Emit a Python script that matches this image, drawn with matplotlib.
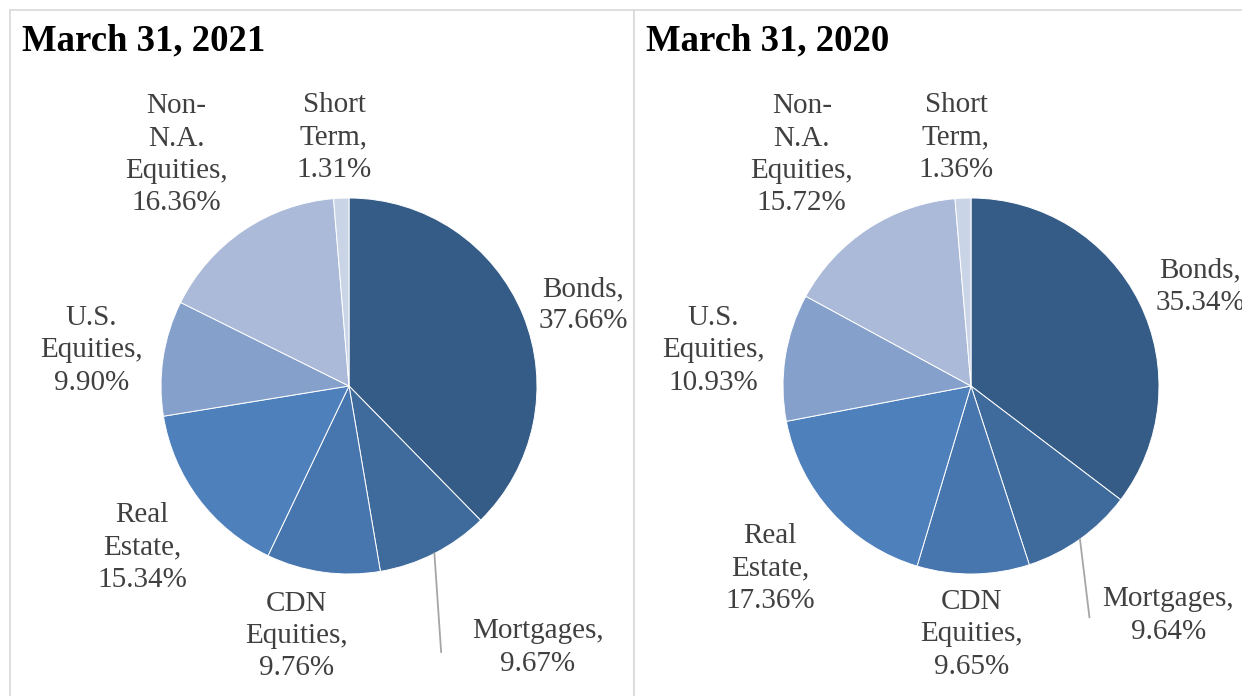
import numpy as np
import matplotlib
matplotlib.use("Agg")
import matplotlib.pyplot as plt

# data
categories = ["Bonds", "Mortgages", "CDN Equities", "Real Estate",
              "U.S. Equities", "Non-N.A. Equities", "Short Term"]
label_text = ["Bonds,", "Mortgages,", "CDN\nEquities,", "Real\nEstate,",
              "U.S.\nEquities,", "Non-\nN.A.\nEquities,", "Short\nTerm,"]
values_2021 = [37.66, 9.67, 9.76, 15.34, 9.90, 16.36, 1.31]
values_2020 = [35.34, 9.64, 9.65, 17.36, 10.93, 15.72, 1.36]
titles = ["March 31, 2021", "March 31, 2020"]

colors = ["#355b87", "#3e6a9c", "#4775ad", "#4e80bc",
          "#85a0cb", "#aabad8", "#c9d4e7"]

# label positions in pie units (radius = 1)
pos_2021 = [(1.245, 0.43), (1.005, -1.39), (-0.28, -1.33), (-1.10, -0.86),
            (-1.37, 0.19), (-0.92, 1.23), (-0.08, 1.32)]
pos_2020 = [(1.22, 0.53), (1.05, -1.22), (0.005, -1.32), (-1.07, -0.97),
            (-1.37, 0.19), (-0.90, 1.23), (-0.08, 1.32)]
leader_end = {0: (0.49, -1.415), 1: (0.63, -1.23)}

W, H = 1242, 696
fig = plt.figure(figsize=(W / 100, H / 100), dpi=100)

R = 188  # pie radius in px
panels = [(10, 634, 349), (634, 1250, 971)]  # left px, right px, centre x px
cy = 386
top, bottom = 10, 700

for i, (vals, pos) in enumerate([(values_2021, pos_2021), (values_2020, pos_2020)]):
    x0, x1, cx = panels[i]
    ax = fig.add_axes([x0 / W, (H - bottom) / H, (x1 - x0) / W, (bottom - top) / H])
    wedges, _ = ax.pie(vals, colors=colors, startangle=90, counterclock=False,
                       wedgeprops=dict(edgecolor="white", linewidth=0.7))
    ax.set_aspect("auto")
    ax.set_xlim(-(cx - x0) / R, (x1 - cx) / R)
    ax.set_ylim(-(bottom - cy) / R, (cy - top) / R)
    ax.set_frame_on(True)
    for s in ax.spines.values():
        s.set_color("#d9d9d9")
        s.set_linewidth(1.2)
    ax.spines["bottom"].set_visible(False)
    if i == 1:
        ax.spines["right"].set_visible(False)
    ax.set_xticks([])
    ax.set_yticks([])

    for k, (txt, v) in enumerate(zip(label_text, vals)):
        ax.text(pos[k][0], pos[k][1], f"{txt}\n{v:.2f}%", ha="center", va="center",
                fontsize=21, family="Liberation Serif", color="#404040",
                linespacing=1.32)

    # leader line for Mortgages
    w = wedges[1]
    mid = np.deg2rad((w.theta1 + w.theta2) / 2)
    ex, ey = leader_end[i]
    ax.plot([np.cos(mid), ex], [np.sin(mid), ey], color="#a6a6a6", lw=1.3)

    ax.text(12 / (x1 - x0), 1 - 40 / (bottom - top), titles[i], transform=ax.transAxes,
            ha="left", va="baseline", fontsize=26.5, fontweight="bold",
            family="Liberation Serif", color="black")

fig.savefig("out.png", dpi=100)
